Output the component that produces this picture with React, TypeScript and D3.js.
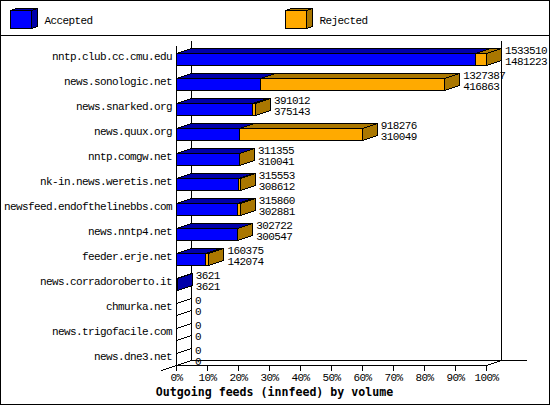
import React, { useEffect, useRef } from 'react';
import * as d3 from 'd3';

const hosts = [
  'nntp.club.cc.cmu.edu',
  'news.sonologic.net',
  'news.snarked.org',
  'news.quux.org',
  'nntp.comgw.net',
  'nk-in.news.weretis.net',
  'newsfeed.endofthelinebbs.com',
  'news.nntp4.net',
  'feeder.erje.net',
  'news.corradoroberto.it',
  'chmurka.net',
  'news.trigofacile.com',
  'news.dne3.net',
];
const offered = [1533510, 1327387, 391012, 918276, 311355, 315553, 315860, 302722, 160375, 3621, 0, 0, 0];
const accepted = [1481223, 416863, 375143, 310049, 310041, 308612, 302881, 300547, 142074, 3621, 0, 0, 0];
const percentTicks = [0, 10, 20, 30, 40, 50, 60, 70, 80, 90, 100];
const legendItems = ['Accepted', 'Rejected'];
const title = 'Outgoing feeds (innfeed) by volume';

const BLUE = '#0000ff';
const DARK_BLUE = '#0000aa';
const ORANGE = '#ffaa00';
const DARK_ORANGE = '#aa7700';
const MONO = '"Liberation Mono", "DejaVu Sans Mono", monospace';
const BOLD_MONO = '"DejaVu Sans Mono", "Liberation Mono", monospace';

export default function App() {
  const svgRef = useRef<SVGSVGElement>(null);

  useEffect(() => {
    if (!svgRef.current) return;
    const svg = d3.select(svgRef.current);
    svg.selectAll('*').remove();

    const width = 550;
    const height = 405;
    const dx = 15; // 3d depth
    const dy = -5;
    const left = 176.5;
    const right = 486.5;
    const bottom = 365.5;

    const x = d3.scaleLinear().domain([0, d3.max(offered)!]).range([left, right]);
    const pct = d3.scaleLinear().domain([0, 100]).range([left, right]);
    const y = d3.scaleBand().domain(hosts).range([40.5, bottom]);

    const poly = (pts: [number, number][], fill: string) =>
      svg.append('polygon')
        .attr('points', pts.map(p => p.join(',')).join(' '))
        .attr('fill', fill)
        .attr('stroke', '#000');

    const line = (x1: number, y1: number, x2: number, y2: number) =>
      svg.append('line')
        .attr('x1', x1).attr('y1', y1).attr('x2', x2).attr('y2', y2)
        .attr('stroke', '#000');

    const label = (tx: number, ty: number, s: string | number) =>
      svg.append('text')
        .attr('x', tx).attr('y', ty)
        .attr('font-family', MONO)
        .attr('font-size', 11)
        .attr('letter-spacing', -0.6)
        .text(s);

    svg.attr('shape-rendering', 'crispEdges');

    svg.append('rect')
      .attr('x', 0.5).attr('y', 0.5)
      .attr('width', width - 1).attr('height', height - 1)
      .attr('fill', '#fff').attr('stroke', '#000');
    line(0.5, 35.5, width - 0.5, 35.5);

    // Legend
    const cube = (cx: number, front: string, dark: string) => {
      poly([[cx, 10.5], [cx + 6, 8.5], [cx + 27, 8.5], [cx + 21, 10.5]], dark);
      poly([[cx + 21, 10.5], [cx + 27, 8.5], [cx + 27, 26.5], [cx + 21, 28.5]], dark);
      svg.append('rect')
        .attr('x', cx).attr('y', 10.5).attr('width', 21).attr('height', 18)
        .attr('fill', front).attr('stroke', '#000');
    };
    legendItems.forEach((name, i) => {
      const cx = i === 0 ? 10.5 : 285.5;
      cube(cx, i === 0 ? BLUE : ORANGE, i === 0 ? DARK_BLUE : DARK_ORANGE);
      label(cx + 34, 24, name);
    });

    // Walls of the plot
    line(left, 45.5, left, bottom);
    line(left + dx, 40.5, left + dx, bottom + dy);
    line(right + dx, 40.5, right + dx, bottom + dy);
    line(left + dx, bottom + dy, right + dx + 25, bottom + dy);
    line(left, bottom, left + dx, bottom + dy);
    line(right, bottom, right + dx, bottom + dy);
    line(left - dx, bottom - dy, left, bottom);

    // Bars
    hosts.forEach((host, i) => {
      const bot = y(host)! + 25;
      const top = bot - 12;
      const x0 = x(0);
      const x1 = x(accepted[i]);
      const x2 = x(offered[i]);

      if (x1 > x0) {
        poly([[x0, top], [x0 + dx, top + dy], [x1 + dx, top + dy], [x1, top]], DARK_BLUE);
      }
      if (x2 > x1) {
        poly([[x1, top], [x1 + dx, top + dy], [x2 + dx, top + dy], [x2, top]], DARK_ORANGE);
      }
      const sideFill = offered[i] === 0 ? '#fff' : x2 > x1 ? DARK_ORANGE : DARK_BLUE;
      poly([[x2, top], [x2 + dx, top + dy], [x2 + dx, bot + dy], [x2, bot]], sideFill);
      if (x1 > x0) {
        svg.append('rect')
          .attr('x', x0).attr('y', top).attr('width', x1 - x0).attr('height', 12)
          .attr('fill', BLUE).attr('stroke', '#000');
      }
      if (x2 > x1) {
        svg.append('rect')
          .attr('x', x1).attr('y', top).attr('width', x2 - x1).attr('height', 12)
          .attr('fill', ORANGE).attr('stroke', '#000');
      }

      label(x0 - 4.5, bot - 5.5, host).attr('text-anchor', 'end');

      const labelX = x2 + dx + 3.5;
      label(labelX, top + 0.5, offered[i]);
      label(labelX, top + 11.5, accepted[i]);
    });

    // Percent axis
    const axis = d3.axisBottom(pct)
      .tickValues(percentTicks)
      .tickFormat(d => `${d}%`)
      .tickSize(5)
      .tickSizeOuter(0)
      .tickPadding(3)
      .offset(0);
    const gx = svg.append('g')
      .attr('transform', `translate(0,${bottom})`)
      .call(axis);
    gx.selectAll('text')
      .attr('font-family', MONO)
      .attr('font-size', 11)
      .attr('letter-spacing', -0.6)
      .attr('fill', '#000');

    svg.append('text')
      .attr('x', 274.5).attr('y', 396)
      .attr('text-anchor', 'middle')
      .attr('font-family', BOLD_MONO)
      .attr('font-size', 11.6)
      .attr('font-weight', 'bold')
      .text(title);
  }, []);

  return (
    <svg
      ref={svgRef}
      width={550}
      height={405}
      style={{ position: 'absolute', left: 0, top: 0, display: 'block' }}
    />
  );
}
